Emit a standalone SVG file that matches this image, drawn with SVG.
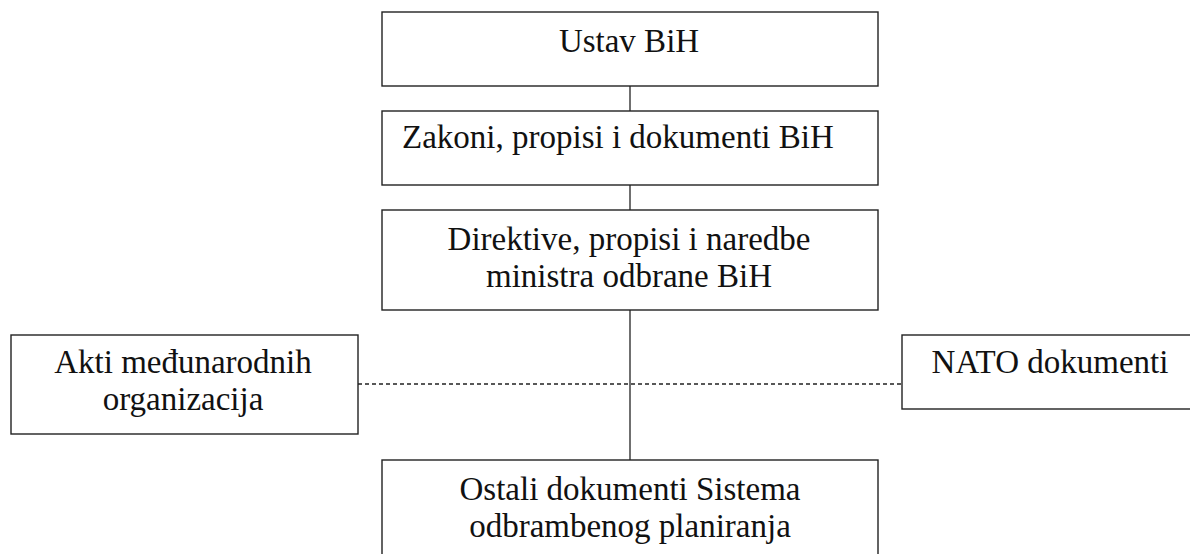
<svg xmlns="http://www.w3.org/2000/svg" width="1190" height="554" viewBox="0 0 1190 554">
<style>
.box{fill:#fff;stroke:#222;stroke-width:1.4}
.t{font-family:"Liberation Serif","Times New Roman",serif;font-size:33px;fill:#111;text-anchor:middle}
.ln{stroke:#222;stroke-width:1.3;fill:none}
.dash{stroke:#222;stroke-width:1.3;stroke-dasharray:4 3;fill:none}
</style>
<rect width="1190" height="554" fill="#fff"/>
<g id="connectors">
<line class="ln" x1="630" y1="86" x2="630" y2="111"/>
<line class="ln" x1="630" y1="185" x2="630" y2="210"/>
<line class="ln" x1="630" y1="310" x2="630" y2="460"/>
<line class="dash" x1="358" y1="384" x2="902" y2="384"/>
</g>
<g id="ustav">
<rect class="box" x="382" y="12" width="496" height="74"/>
<text class="t" x="629" y="52">Ustav BiH</text>
</g>
<g id="zakoni">
<rect class="box" x="382" y="111" width="496" height="74"/>
<text class="t" x="402" y="148" style="text-anchor:start">Zakoni, propisi i dokumenti BiH</text>
</g>
<g id="direktive">
<rect class="box" x="382" y="210" width="496" height="100"/>
<text class="t" x="629" y="250">Direktive, propisi i naredbe</text>
<text class="t" x="629" y="287">ministra odbrane BiH</text>
</g>
<g id="akti">
<rect class="box" x="11" y="335" width="347" height="99"/>
<text class="t" x="183" y="373">Akti međunarodnih</text>
<text class="t" x="183" y="410">organizacija</text>
</g>
<g id="nato">
<rect class="box" x="902" y="335" width="300" height="74"/>
<text class="t" x="1050" y="373">NATO dokumenti</text>
</g>
<g id="ostali">
<rect class="box" x="382" y="460" width="496" height="110"/>
<text class="t" x="630" y="500">Ostali dokumenti Sistema</text>
<text class="t" x="630" y="537">odbrambenog planiranja</text>
</g>
</svg>
